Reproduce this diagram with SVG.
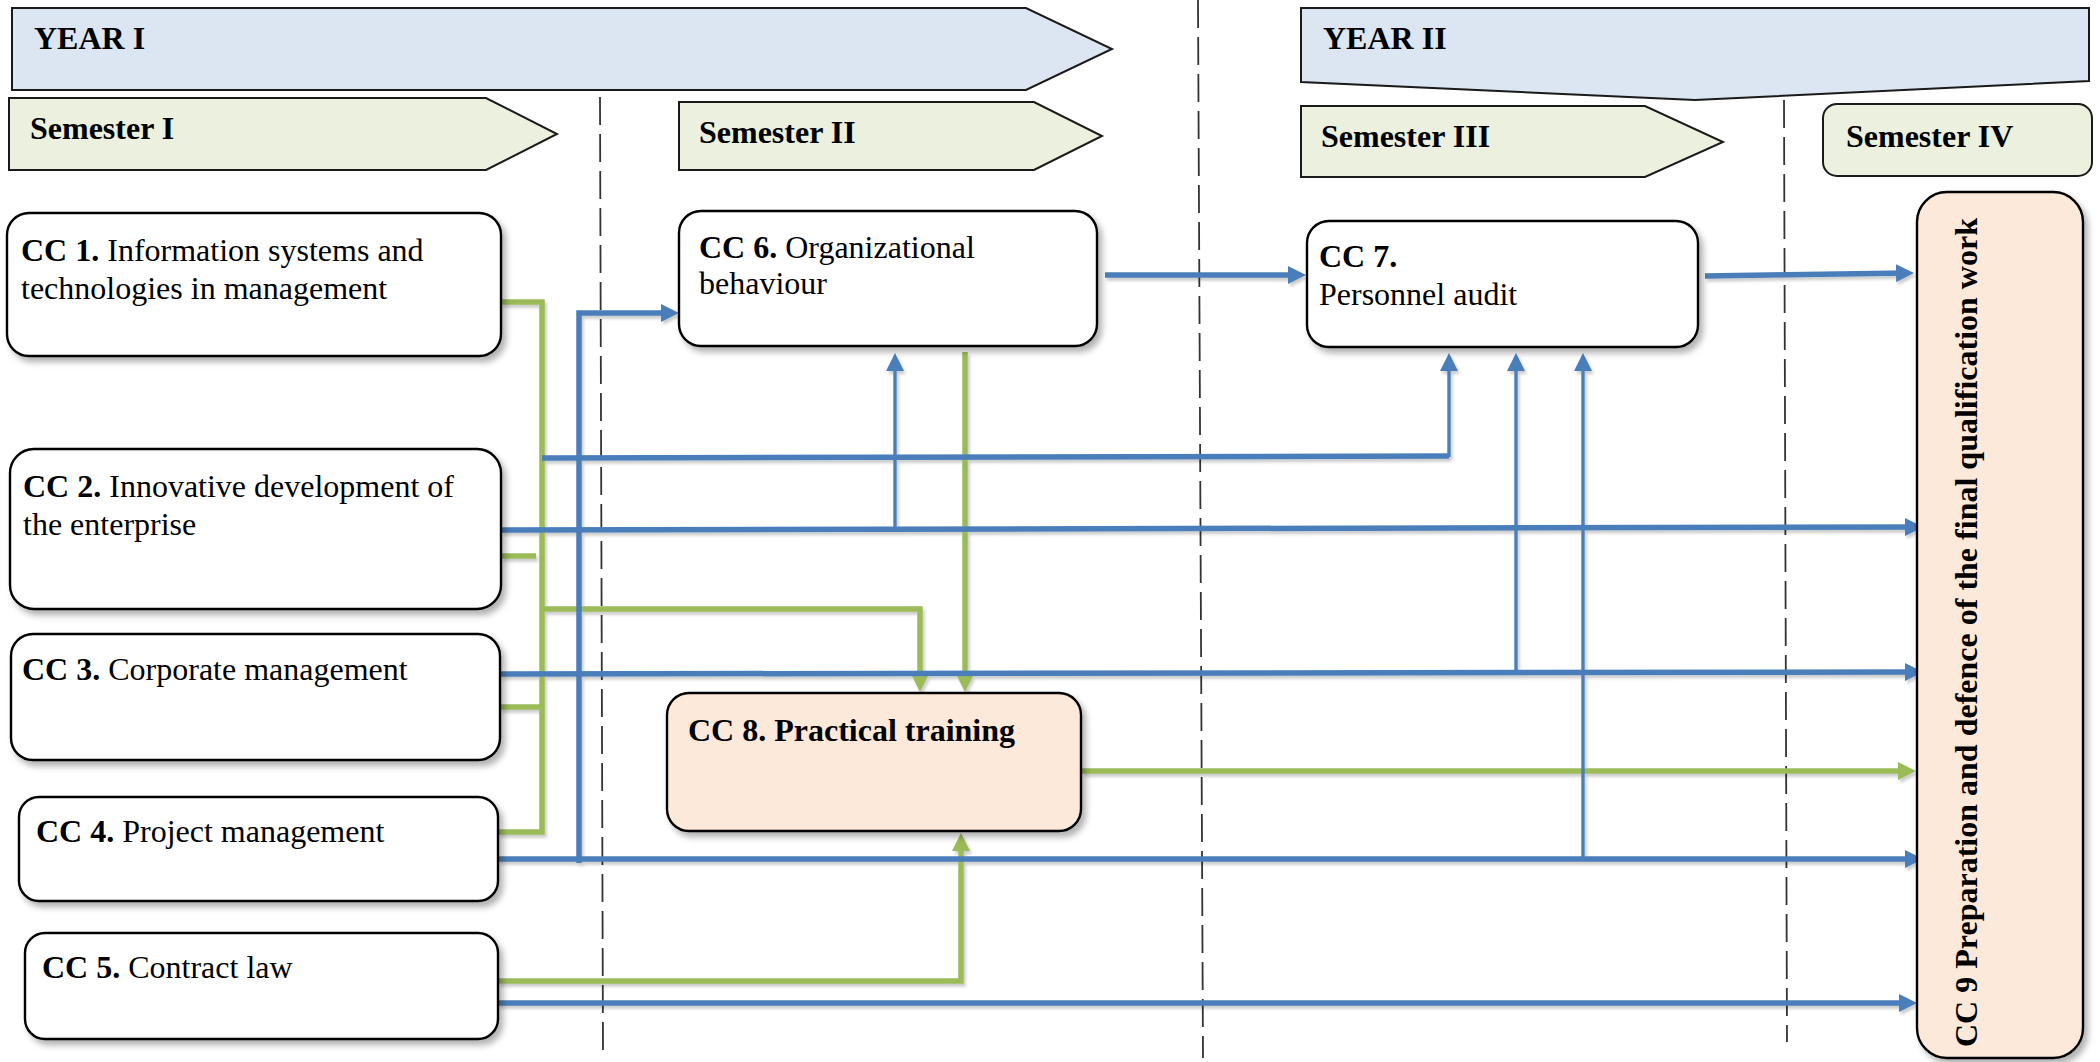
<svg xmlns="http://www.w3.org/2000/svg" width="2100" height="1062" viewBox="0 0 2100 1062">
<defs>
<style>
.bn{stroke:#1a1a1a;stroke-width:2}
.yr{fill:#DCE6F2}
.sm{fill:#EBF1DE}
.box{fill:#ffffff;stroke:#000;stroke-width:2.4}
.pch{fill:#FDE9D9;stroke:#000;stroke-width:2.4}
.t{font-family:"Liberation Serif","Times New Roman",serif;font-size:32px;fill:#000}
.b{font-weight:bold}
.dash{stroke:#333;stroke-width:1.8;stroke-dasharray:28 9;fill:none}
.bl{stroke:#4A7EBB;stroke-width:5.5;fill:none}
.blt{stroke:#4A7EBB;stroke-width:3.4;fill:none}
.gr{stroke:#9BBB59;stroke-width:5.5;fill:none}
.ab{marker-end:url(#mb)}
.ag{marker-end:url(#mg)}
</style>
<marker id="mb" viewBox="0 0 18 18" refX="11" refY="9" markerWidth="18" markerHeight="18" markerUnits="userSpaceOnUse" orient="auto"><path d="M0,0 L18,9 L0,18 z" fill="#4A7EBB"/></marker>
<marker id="mg" viewBox="0 0 18 18" refX="11" refY="9" markerWidth="18" markerHeight="18" markerUnits="userSpaceOnUse" orient="auto"><path d="M0,0 L18,9 L0,18 z" fill="#9BBB59"/></marker>
<filter id="sh" filterUnits="userSpaceOnUse" x="0" y="0" width="2100" height="1062"><feDropShadow dx="4" dy="5" stdDeviation="3" flood-color="#000" flood-opacity="0.3"/></filter>
<filter id="lsh" filterUnits="userSpaceOnUse" x="0" y="0" width="2100" height="1062"><feDropShadow dx="2" dy="3" stdDeviation="1.5" flood-color="#000" flood-opacity="0.2"/></filter>
</defs>
<rect x="0" y="0" width="2100" height="1062" fill="#ffffff"/>

<g id="dividers">
<line class="dash" x1="600" y1="97" x2="603" y2="1055"/>
<line class="dash" x1="1198" y1="0" x2="1203" y2="1058"/>
<line class="dash" x1="1784" y1="100" x2="1787" y2="1042"/>
</g>

<g id="year1"><polygon class="bn yr" points="12,8 1026,8 1112,49 1026,90 12,90"/><text class="t b" x="34" y="49">YEAR I</text></g>
<g id="year2"><polygon class="bn yr" points="1301,8 2089,8 2089,81 1695,100 1301,82"/><text class="t b" x="1323" y="49">YEAR II</text></g>
<g id="sem1"><polygon class="bn sm" points="9,98 486,98 557,134 486,170 9,170"/><text class="t b" x="30" y="139">Semester I</text></g>
<g id="sem2"><polygon class="bn sm" points="679,102 1034,102 1102,136 1034,170 679,170"/><text class="t b" x="699" y="143">Semester II</text></g>
<g id="sem3"><polygon class="bn sm" points="1301,106 1645,106 1723,142 1645,177 1301,177"/><text class="t b" x="1321" y="147">Semester III</text></g>
<g id="sem4"><rect class="bn sm" x="1823" y="104" width="269" height="72" rx="14"/><text class="t b" x="1846" y="147">Semester IV</text></g>

<g id="connectors" filter="url(#lsh)">
<path class="gr" d="M501,302 H542 V832 H498"/>
<path class="gr" d="M501,556 H536"/>
<path class="gr" d="M500,707 H540"/>
<path class="gr ag" d="M542,609 H920 V685"/>
<path class="gr ag" d="M965,352 V685"/>
<path class="gr ag" d="M498,981 H961 V840"/>
<path class="gr ag" d="M1082,771 H1909"/>
<path class="bl ab" d="M579,863 V313 H672"/>
<path class="bl ab" d="M498,859 H1916"/>
<path class="blt ab" d="M1583,859 V360"/>
<path class="bl ab" d="M500,674 L1916,672"/>
<path class="blt ab" d="M1516,674 V360"/>
<path class="bl ab" d="M501,530 L1916,527"/>
<path class="blt ab" d="M895,530 V360"/>
<path class="bl" d="M542,458 L1449,456"/>
<path class="blt ab" d="M1449,457 V360"/>
<path class="bl ab" d="M1105,275 H1299"/>
<path class="bl ab" d="M1705,276 L1907,273"/>
<path class="bl ab" d="M498,1003 H1910"/>
</g>

<g id="cc1"><rect class="box" filter="url(#sh)" x="7" y="213" width="494" height="143" rx="22"/><text class="t" x="21" y="261"><tspan class="b">CC 1.</tspan> Information systems and</text><text class="t" x="21" y="299">technologies in management</text></g>
<g id="cc2"><rect class="box" filter="url(#sh)" x="10" y="449" width="491" height="160" rx="24"/><text class="t" x="23" y="497"><tspan class="b">CC 2.</tspan> Innovative development of</text><text class="t" x="23" y="535">the enterprise</text></g>
<g id="cc3"><rect class="box" filter="url(#sh)" x="11" y="634" width="489" height="126" rx="22"/><text class="t" x="22" y="680"><tspan class="b">CC 3.</tspan> Corporate management</text></g>
<g id="cc4"><rect class="box" filter="url(#sh)" x="19" y="797" width="479" height="104" rx="20"/><text class="t" x="36" y="842"><tspan class="b">CC 4.</tspan> Project management</text></g>
<g id="cc5"><rect class="box" filter="url(#sh)" x="25" y="933" width="473" height="106" rx="20"/><text class="t" x="42" y="978"><tspan class="b">CC 5.</tspan> Contract law</text></g>
<g id="cc6"><rect class="box" filter="url(#sh)" x="679" y="211" width="418" height="135" rx="22"/><text class="t" x="699" y="258"><tspan class="b">CC 6.</tspan> Organizational</text><text class="t" x="699" y="294">behaviour</text></g>
<g id="cc7"><rect class="box" filter="url(#sh)" x="1307" y="221" width="391" height="126" rx="22"/><text class="t b" x="1319" y="267">CC 7.</text><text class="t" x="1319" y="305">Personnel audit</text></g>
<g id="cc8"><rect class="pch" filter="url(#sh)" x="667" y="693" width="414" height="138" rx="22"/><text class="t b" x="688" y="741">CC 8. Practical training</text></g>
<g id="cc9"><rect class="pch" filter="url(#sh)" x="1917" y="192" width="166" height="866" rx="30"/><text class="t b" transform="translate(1977,1047) rotate(-90)" x="0" y="0" textLength="829" lengthAdjust="spacingAndGlyphs">CC 9 Preparation and defence of the final qualification work</text></g>
</svg>
